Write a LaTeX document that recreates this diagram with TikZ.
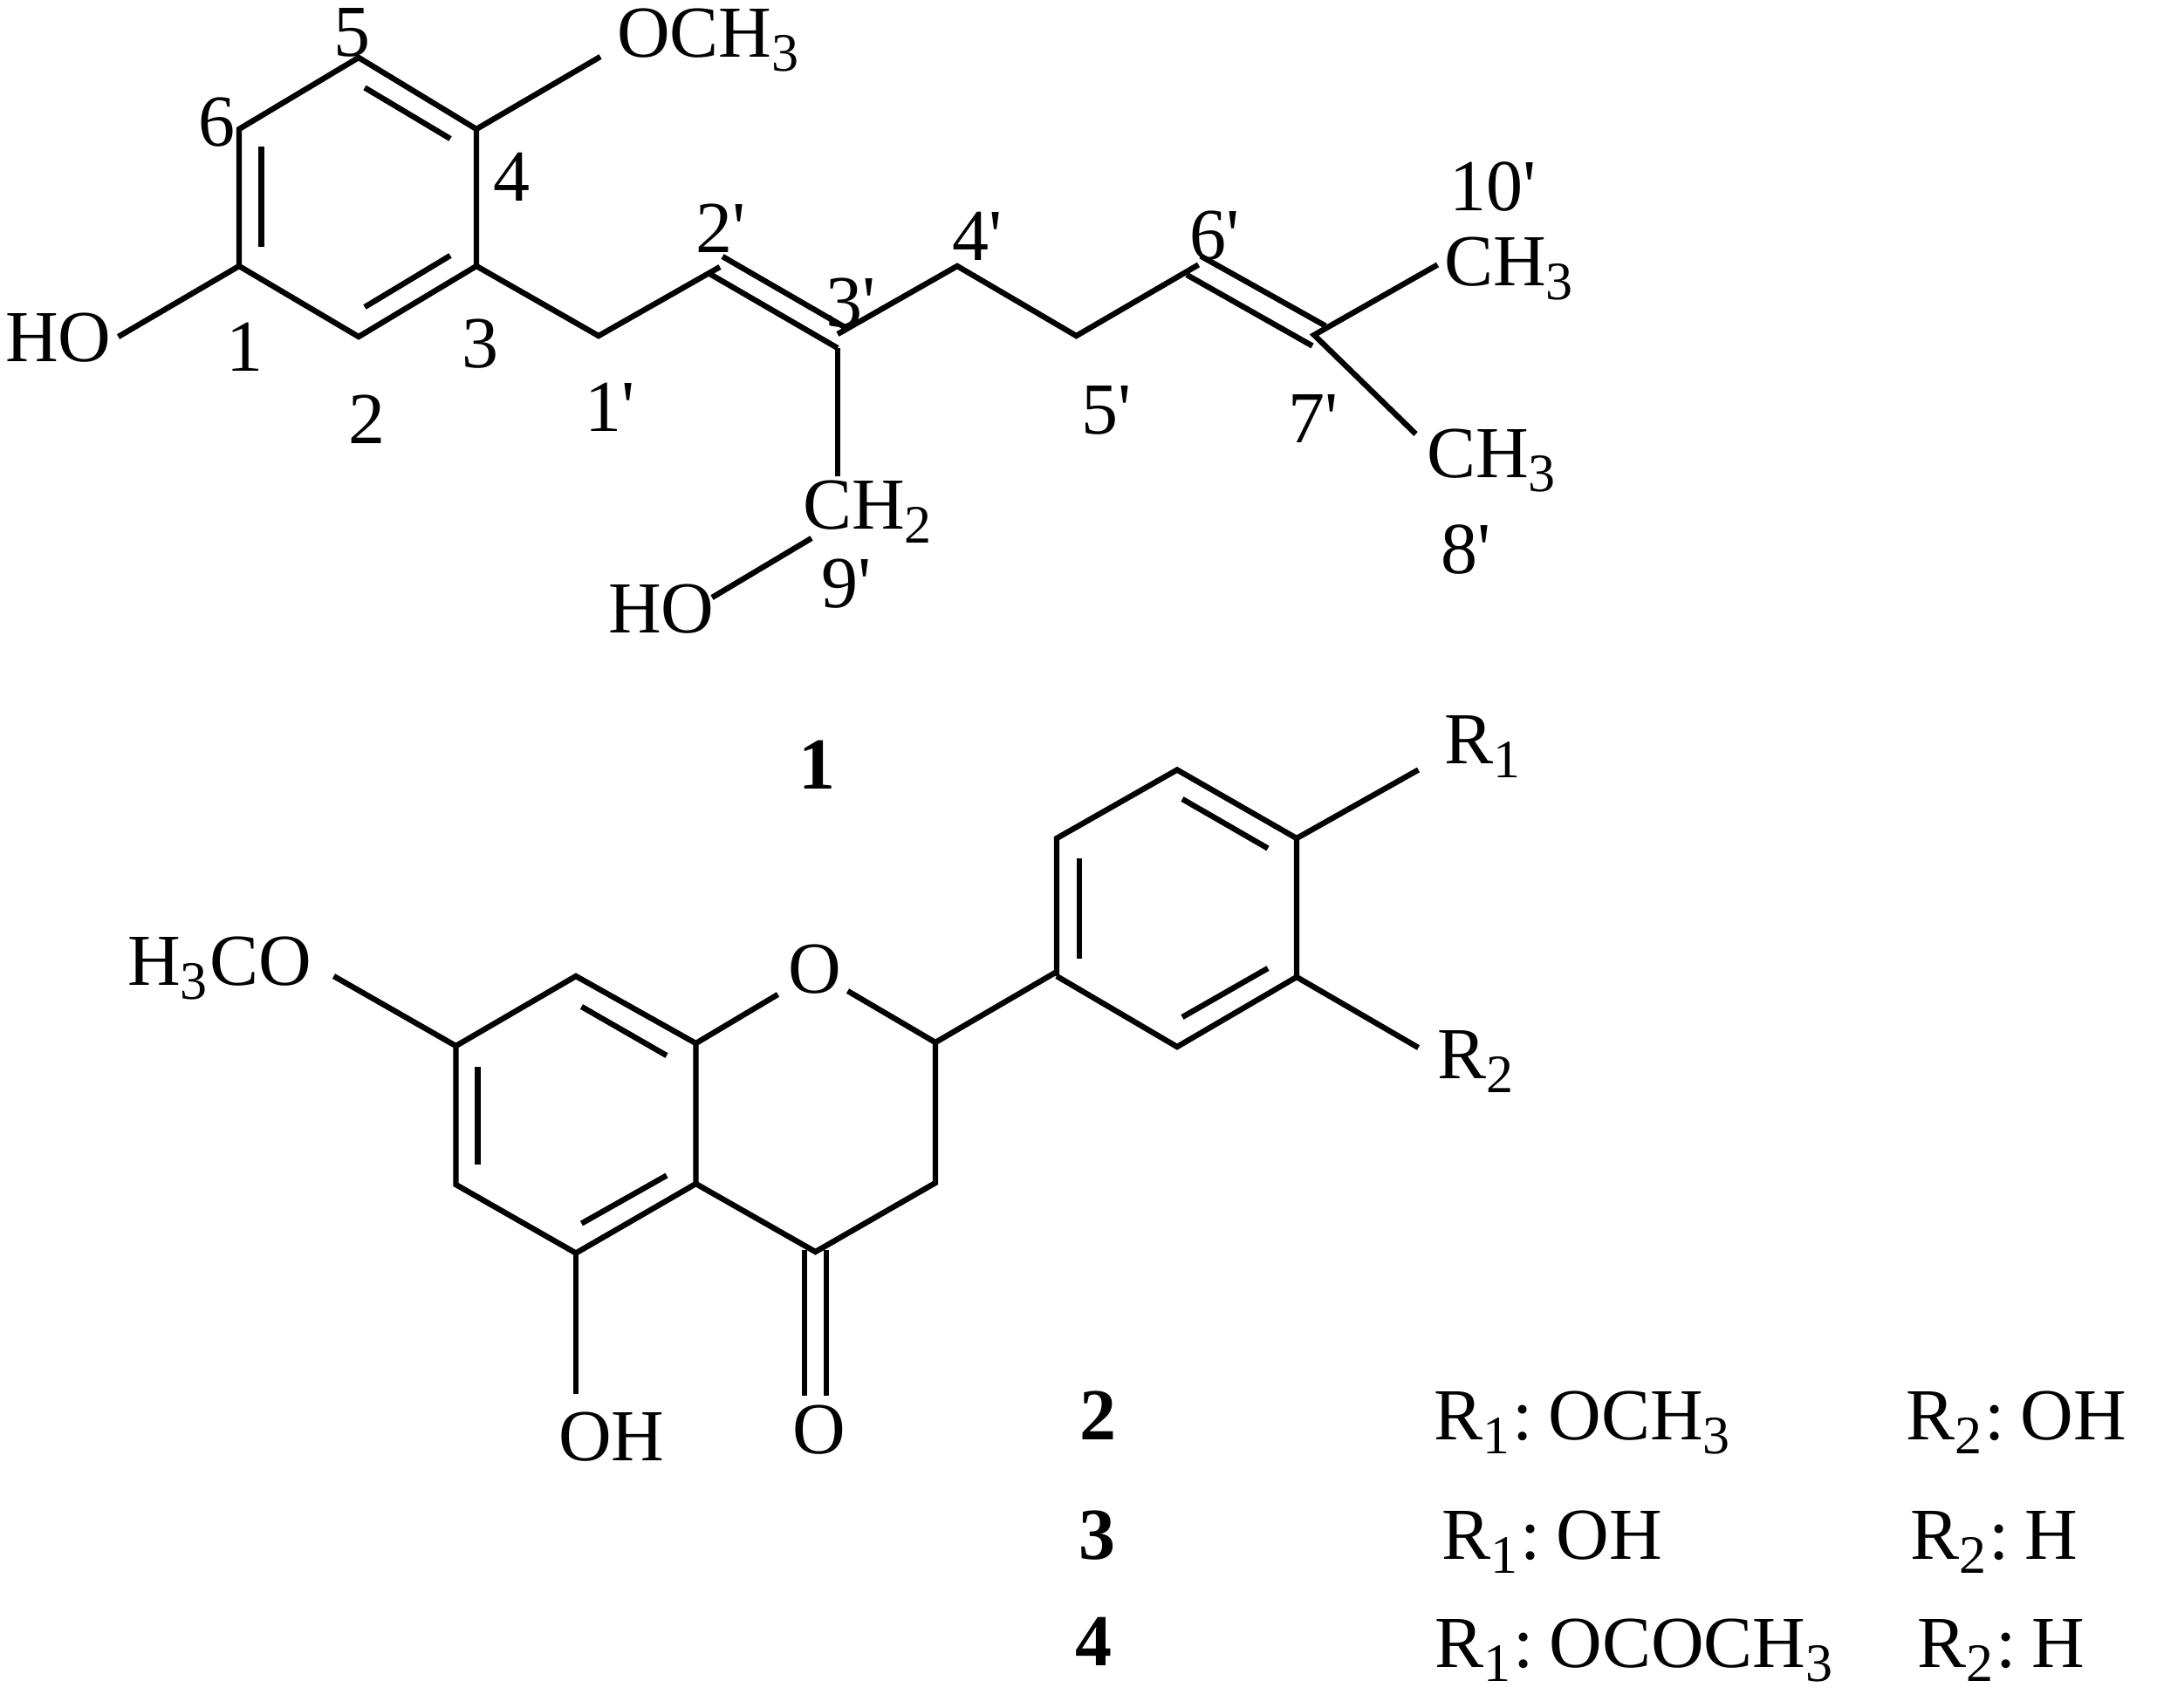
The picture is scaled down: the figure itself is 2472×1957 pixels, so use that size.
\documentclass[tikz,border=0pt]{standalone}
\usepackage{fontspec}
\setmainfont{Liberation Serif}
\newcommand{\pr}{\textquotesingle}
\newcommand{\sbs}[1]{\raisebox{-16pt}{\fontsize{62}{64}\selectfont #1}\kern3pt\relax}
\newcommand{\cln}{:\kern18pt\relax}
\tikzset{
  bond/.style={line width=6.4pt,line cap=butt,line join=miter,black},
  lab/.style={anchor=base west,inner sep=0pt,outer sep=0pt,font=\fontsize{84}{90}\selectfont,text=black},
  num/.style={lab,font=\fontsize{84}{90}\selectfont\bfseries}
}
\begin{document}
\begin{tikzpicture}[x=1pt,y=-1pt]
\useasboundingbox (0,0) rectangle (2472,1957);
% --- compound 1 skeleton
\coordinate (a1) at (274,305);
\coordinate (a6) at (274,148);
\coordinate (a5) at (411,66);
\coordinate (a4) at (546,148);
\coordinate (a3) at (546,305);
\coordinate (a2) at (411,386);
\coordinate (i1a) at (299.5,168); \coordinate (i1b) at (299.5,283);
\coordinate (i2a) at (418,100.5); \coordinate (i2b) at (516,159);
\coordinate (i3a) at (418,352);   \coordinate (i3b) at (516,293);
\coordinate (ome) at (688,65);
\coordinate (hoe) at (135.6,386);
\coordinate (p1) at (686,385);
\coordinate (p2) at (825,306);
\coordinate (p2l) at (813.5,314);
\coordinate (p2u) at (828,294);
\coordinate (p3) at (960,383);
\coordinate (p3l) at (960,399);
\coordinate (p3u) at (968,375);
\coordinate (p4) at (1097,305);
\coordinate (p5) at (1233.5,385);
\coordinate (p6) at (1373.5,303.5);
\coordinate (p6l) at (1360,315);
\coordinate (p6u) at (1376,293.5);
\coordinate (p7) at (1506,384);
\coordinate (p7l) at (1504,396.5);
\coordinate (p7u) at (1519,373.5);
\coordinate (me1) at (1647.5,303.5);
\coordinate (me2) at (1622.5,497.5);
\coordinate (ch2t) at (960,546);
\coordinate (ch2b) at (930,617);
\coordinate (hob) at (816,685);
\draw[bond] (hoe) -- (a1) -- (a6) -- (a5) -- (a4) -- (a3) -- (a2) -- (a1);
\draw[bond] (i1a) -- (i1b);
\draw[bond] (i2a) -- (i2b);
\draw[bond] (i3a) -- (i3b);
\draw[bond] (a4) -- (ome);
\draw[bond] (a3) -- (p1) -- (p2);
\draw[bond] (p2l) -- (p3l);
\draw[bond] (p2u) -- (p3u);
\draw[bond] (p3l) -- (ch2t);
\draw[bond] (p3) -- (p4) -- (p5) -- (p6);
\draw[bond] (p6l) -- (p7l);
\draw[bond] (p6u) -- (p7u);
\draw[bond] (me2) -- (p7) -- (me1);
\draw[bond] (ch2b) -- (hob);
% --- compound 1 labels
\node[lab] (t1) at (707,65) {OCH\sbs{3}};
\node[lab] (t2) at (6,414) {HO};
\node[lab] (t3) at (697,725.5) {HO};
\node[lab] (t4) at (920,606) {CH\sbs{2}};
\node[lab] (t5) at (1655,327.5) {CH\sbs{3}};
\node[lab] (t6) at (1635,547.5) {CH\sbs{3}};
\node[lab] (n5) at (382,64) {5};
\node[lab] (n6) at (227,167) {6};
\node[lab] (n4) at (565,230) {4};
\node[lab] (n3) at (529,421) {3};
\node[lab] (n1) at (259,425) {1};
\node[lab] (n2) at (399,508) {2};
\node[lab] (m1) at (670,494) {1\pr};
\node[lab] (m2) at (797,289) {2\pr};
\node[lab] (m3) at (946,374) {3\pr};
\node[lab] (m4) at (1091,298.5) {4\pr};
\node[lab] (m5) at (1239,497.5) {5\pr};
\node[lab] (m6) at (1363,297) {6\pr};
\node[lab] (m7) at (1476,507.5) {7\pr};
\node[lab] (m8) at (1651,657.5) {8\pr};
\node[lab] (m9) at (941,696.5) {9\pr};
\node[lab] (m10) at (1661,241) {10\pr};
\node[num] (c1) at (915,904) {1};
% --- compound 2 skeleton
\coordinate (b1) at (522.5,1199);
\coordinate (b2) at (522.5,1358);
\coordinate (b3) at (660,1436.5);
\coordinate (b4) at (797.5,1357);
\coordinate (b5) at (797.5,1196);
\coordinate (b6) at (660,1119);
\coordinate (o1l) at (891.5,1140);
\coordinate (o1r) at (971.5,1136);
\coordinate (c2) at (1072,1195);
\coordinate (c3) at (1072,1356);
\coordinate (c4) at (934.5,1435);
\coordinate (co1a) at (922,1433); \coordinate (co1b) at (922,1600);
\coordinate (co2a) at (947,1433); \coordinate (co2b) at (947,1600);
\coordinate (ohb) at (660,1597.5);
\coordinate (meo) at (382.5,1119);
\coordinate (d0) at (1211,1114);
\coordinate (d1) at (1211,1119);
\coordinate (d2) at (1211,961);
\coordinate (d3) at (1349,882.5);
\coordinate (d4) at (1486,961);
\coordinate (d5) at (1486,1120);
\coordinate (d6) at (1349,1200);
\coordinate (r1e) at (1625.5,882.5);
\coordinate (r2e) at (1625.5,1201);
\coordinate (j1a) at (547.5,1222.5); \coordinate (j1b) at (547.5,1335);
\coordinate (j2a) at (666.5,1402.5); \coordinate (j2b) at (764,1347.5);
\coordinate (j3a) at (666.5,1154);   \coordinate (j3b) at (764,1210);
\coordinate (j4a) at (1237,984);     \coordinate (j4b) at (1237,1098.5);
\coordinate (j5a) at (1355,916);     \coordinate (j5b) at (1453,972.5);
\coordinate (j6a) at (1355,1166);    \coordinate (j6b) at (1453,1110);
\draw[bond] (meo) -- (b1) -- (b2) -- (b3) -- (b4) -- (b5) -- (b6) -- (b1);
\draw[bond] (b5) -- (o1l);
\draw[bond] (o1r) -- (c2) -- (c3) -- (c4) -- (b4);
\draw[bond] (b3) -- (ohb);
\draw[bond] (co1a) -- (co1b);
\draw[bond] (co2a) -- (co2b);
\draw[bond] (c2) -- (d0);
\draw[bond] (d1) -- (d2) -- (d3) -- (d4) -- (d5) -- (d6) -- (d1);
\draw[bond] (d4) -- (r1e);
\draw[bond] (d5) -- (r2e);
\draw[bond] (j1a) -- (j1b);
\draw[bond] (j2a) -- (j2b);
\draw[bond] (j3a) -- (j3b);
\draw[bond] (j4a) -- (j4b);
\draw[bond] (j5a) -- (j5b);
\draw[bond] (j6a) -- (j6b);
% --- compound 2 labels
\node[lab] (u1) at (146,1129) {H\sbs{3}CO};
\node[lab] (u2) at (903.5,1138) {O};
\node[lab] (u3) at (640,1674) {OH};
\node[lab] (u4) at (908,1666) {O};
\node[lab] (u5) at (1655,875) {R\sbs{1}};
\node[lab] (u6) at (1647,1236.5) {R\sbs{2}};
% --- table
\node[num] (k2) at (1237,1650.5) {2};
\node[lab] (k2a) at (1643,1650.5) {R\sbs{1}\cln OCH\sbs{3}};
\node[lab] (k2b) at (2184,1650.5) {R\sbs{2}\cln OH};
\node[num] (k3) at (1236,1787.5) {3};
\node[lab] (k3a) at (1652,1787.5) {R\sbs{1}\cln OH};
\node[lab] (k3b) at (2189,1787.5) {R\sbs{2}\cln H};
\node[num] (k4) at (1232,1909) {4};
\node[lab] (k4a) at (1644,1911) {R\sbs{1}\cln OCOCH\sbs{3}};
\node[lab] (k4b) at (2197,1911) {R\sbs{2}\cln H};
\end{tikzpicture}
\end{document}
